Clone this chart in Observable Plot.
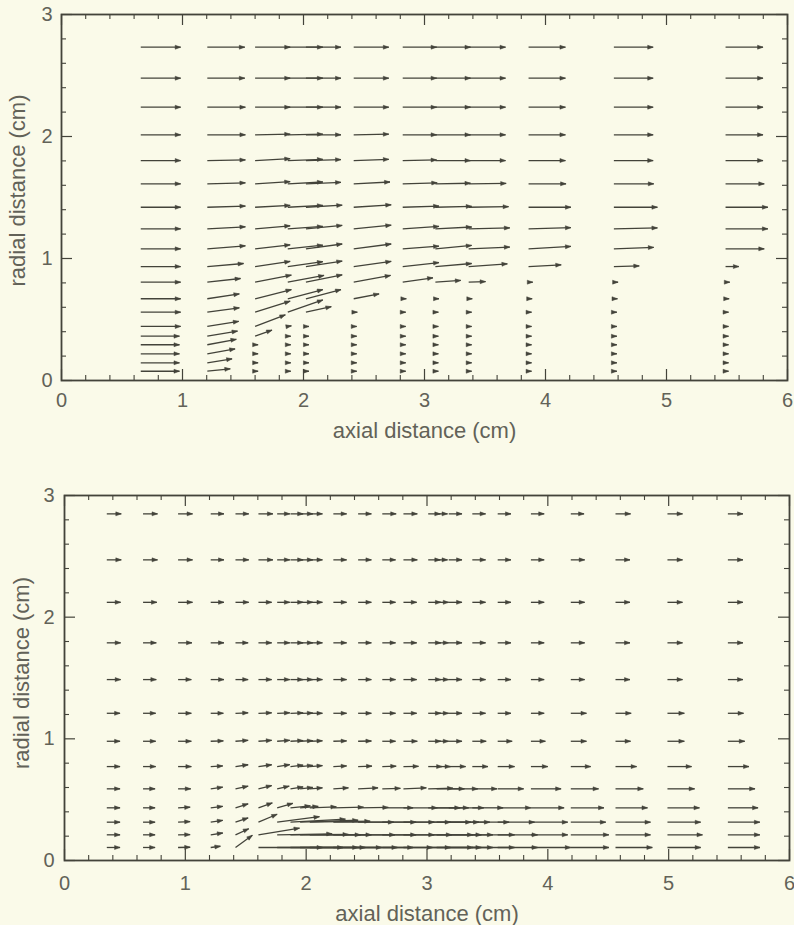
<!DOCTYPE html>
<html><head><meta charset="utf-8">
<script src="https://cdn.jsdelivr.net/npm/d3@7"></script>
<script src="https://cdn.jsdelivr.net/npm/@observablehq/plot@0.6"></script>
<style>
html,body{margin:0;padding:0;background:#fafae9;}
#chart{width:794px;}
#chart svg{display:block;}
</style></head><body><div id="chart"></div>
<script>
// ---------- axis tick values ----------
const xMajor = [0, 1, 2, 3, 4, 5, 6];
const yMajor = [0, 1, 2, 3];
const xLabel = "axial distance (cm)";
const yLabel = "radial distance (cm)";

// ---------- top panel: grid (cm) and arrow displacements (mm) ----------
const topX = [0.655, 1.205, 1.60, 1.87, 2.02, 2.415, 2.82, 3.09, 3.365, 3.86, 4.565, 5.488];
const topR = [0.076, 0.145, 0.219, 0.293, 0.363, 0.443, 0.56, 0.67, 0.806, 0.934, 1.079, 1.243, 1.42, 1.612, 1.803, 2.014, 2.24, 2.478, 2.732];
const topU = [
  [3.2,3.2,3.2,3.2,3.2,3.3,3.3,3.3,3.3,3.3,3.3,3.3,3.3,3.3,3.3,3.3,3.3,3.3,3.3],
  [1.9,2.05,2.3,2.4,2.5,2.6,2.65,2.65,2.75,3.0,3.15,3.15,3.15,3.15,3.15,3.15,3.15,3.1,3.1],
  [0.25,0.25,0.25,0.25,1.4,2.5,2.9,3.0,3.0,2.9,2.9,2.9,2.9,2.9,2.9,2.9,2.9,2.9,2.9],
  [0.25,0.25,0.25,0.25,0.25,0.3,2.9,2.9,3.0,2.9,2.9,2.9,2.9,2.9,2.9,2.9,2.9,2.9,2.9],
  [0.25,0.25,0.25,0.25,0.25,0.25,2.1,2.9,3.0,3.0,3.0,3.0,3.0,2.9,2.9,2.9,2.9,2.9,2.9],
  [0.25,0.25,0.25,0.25,0.25,0.25,0.3,2.1,3.05,3.1,3.1,3.1,3.1,3.0,2.9,2.9,2.9,2.9,2.9],
  [0.25,0.25,0.25,0.25,0.25,0.25,0.25,0.3,2.5,3.0,3.0,3.0,3.0,2.85,2.8,2.8,2.8,2.8,2.8],
  [0.25,0.25,0.25,0.25,0.25,0.25,0.25,0.3,2.1,3.0,3.0,3.0,3.0,2.9,2.9,2.9,2.9,2.9,2.9],
  [0.25,0.25,0.25,0.25,0.25,0.25,0.25,0.3,1.4,3.2,3.4,3.4,3.3,3.1,3.05,3.05,3.05,3.05,3.05],
  [0.25,0.25,0.25,0.25,0.25,0.25,0.25,0.3,0.35,2.7,3.5,3.5,3.5,3.1,3.05,3.05,3.05,3.05,3.05],
  [0.25,0.25,0.25,0.25,0.25,0.25,0.25,0.3,0.35,2.1,3.3,3.6,3.6,3.3,3.25,3.25,3.25,3.25,3.25],
  [0.25,0.25,0.25,0.25,0.25,0.25,0.25,0.3,0.35,1.1,3.2,3.5,3.5,3.2,3.1,3.1,3.1,3.1,3.1]
];
const topV = [
  [0,0,0,0,0,0,0,0,0,0,0,0,0,0,0,0,0,0,0],
  [0.2,0.33,0.4,0.45,0.42,0.42,0.36,0.4,0.3,0.25,0.25,0.17,0.1,0.08,0.05,0,0,0,0],
  [0,0,0,0,0.5,0.95,0.9,0.75,0.58,0.42,0.33,0.25,0.15,0.18,0.15,0.05,0,0,0],
  [0,0,0,0,0,0.05,1.0,0.75,0.55,0.4,0.3,0.2,0.15,0.15,0.1,0.05,0,0,0],
  [0,0,0,0,0,0,0.45,0.75,0.6,0.45,0.4,0.28,0.17,0.12,0.08,0,0,0,0],
  [0,0,0,0,0,0,0,0.4,0.55,0.42,0.4,0.3,0.2,0.15,0.1,0.05,0,0,0],
  [0,0,0,0,0,0,0,0,0.36,0.33,0.22,0.2,0.1,0.08,0.05,0,0,0,0],
  [0,0,0,0,0,0,0,0,0.14,0.25,0.28,0.15,0.08,0.05,0,0,0,0,0],
  [0,0,0,0,0,0,0,0,0.05,0.22,0.15,0.08,0.05,0.03,0,0,0,0,0],
  [0,0,0,0,0,0,0,0,0,0.14,0.2,0.1,0,0,0,0,0,0,0],
  [0,0,0,0,0,0,0,0,0,0.05,0.12,0.08,0,0,0,0,0,0,0],
  [0,0,0,0,0,0,0,0,0,0,0,0,0,0,0,0,0,0,0]
];

// ---------- bottom panel ----------
const botX = [0.35, 0.65, 0.94, 1.21, 1.415, 1.605, 1.76, 1.87, 1.95, 2.03, 2.225, 2.43, 2.63, 2.805, 3.01, 3.08, 3.18, 3.375, 3.585, 3.86, 4.19, 4.56, 4.99, 5.49];
const botR = [0.107, 0.211, 0.315, 0.433, 0.589, 0.772, 0.98, 1.21, 1.487, 1.789, 2.122, 2.471, 2.849];
const botU = [
  [1.1,1.1,1.1,1.1,1.1,1.1,1.1,1.1,1.15,1.15,1.15,1.2,1.2],
  [1.0,1.0,1.0,1.0,1.0,1.05,1.05,1.05,1.1,1.1,1.15,1.2,1.2],
  [1.0,1.0,1.0,1.0,1.05,1.1,1.1,1.1,1.1,1.15,1.2,1.2,1.2],
  [0.8,1.0,1.0,1.0,1.0,1.0,1.05,1.05,1.1,1.1,1.1,1.1,1.1],
  [1.4,1.1,1.05,1.05,1.05,1.05,1.05,1.05,1.05,1.05,1.1,1.1,1.1],
  [5.3,3.4,1.55,1.15,1.1,1.1,1.1,1.1,1.1,1.1,1.1,1.2,1.2],
  [5.45,4.55,3.5,1.3,1.0,1.05,1.05,1.05,1.05,1.05,1.05,1.05,1.05],
  [5.6,4.8,4.55,1.65,1.05,1.05,1.05,1.05,1.05,1.05,1.05,1.05,1.05],
  [5.4,5.0,4.8,1.5,1.05,1.05,1.05,1.05,1.05,1.05,1.05,1.05,1.05],
  [5.95,5.1,5.0,2.2,1.05,1.05,1.05,1.05,1.05,1.05,1.05,1.05,1.05],
  [5.3,5.1,5.0,2.5,1.25,1.1,1.1,1.1,1.1,1.1,1.1,1.1,1.1],
  [4.55,4.8,4.8,2.5,1.65,1.15,1.1,1.1,1.1,1.1,1.1,1.1,1.1],
  [4.15,4.3,4.3,2.55,1.5,1.15,1.1,1.1,1.1,1.1,1.1,1.1,1.15],
  [3.9,4.0,3.9,2.8,1.9,1.25,1.15,1.1,1.1,1.1,1.1,1.15,1.15],
  [3.7,3.7,3.55,2.65,2.05,1.15,1.05,1.05,1.05,1.05,1.05,1.0,1.0],
  [3.7,3.7,3.5,2.65,2.3,1.15,1.0,1.0,1.0,1.0,1.0,0.9,0.9],
  [3.65,3.65,3.4,2.9,2.4,1.4,1.1,1.1,1.1,1.1,1.1,1.1,1.1],
  [3.5,3.5,3.05,2.55,2.05,1.3,1.15,1.1,1.1,1.1,1.1,1.1,1.1],
  [3.3,3.3,3.05,2.75,2.15,1.4,1.2,1.1,1.1,1.1,1.1,1.1,1.1],
  [3.3,3.05,3.05,2.75,2.5,1.4,1.2,1.1,1.1,1.1,1.1,1.1,1.1],
  [3.15,3.15,2.9,2.75,2.3,1.65,1.3,1.3,1.15,1.15,1.15,1.15,1.1],
  [3.05,2.9,2.9,2.65,2.3,1.75,1.25,1.3,1.2,1.2,1.2,1.2,1.25],
  [2.75,2.9,2.75,2.65,2.25,2.0,1.4,1.4,1.25,1.25,1.25,1.25,1.25],
  [2.65,2.65,2.65,2.5,2.25,1.75,1.4,1.3,1.25,1.25,1.25,1.25,1.25]
];
const botV = [
  [0,0,0,0,0,0,0,0,0,0,0,0,0],
  [0,0,0,0,0,0,0,0,0,0,0,0,0],
  [0.02,0.02,0.05,0.05,0,0,0,0,0,0,0,0,0],
  [0.1,0.15,0.15,0.12,0.14,0.05,0.03,0,0,0,0,0,0],
  [1.0,0.5,0.35,0.33,0.22,0.15,0.08,0.04,0,0,0,0,0],
  [0,0.55,0.65,0.4,0.27,0.15,0.08,0.04,0,0,0,0,0],
  [0,0.08,0.45,0.37,0.22,0.16,0.08,0.04,0,0,0,0,0],
  [0,0.03,0.25,0.16,0.16,0.12,0.06,0.03,0,0,0,0,0],
  [0,0,0.16,0.12,0.12,0.1,0.05,0.02,0,0,0,0,0],
  [0,0,0.08,0.08,0.08,0.08,0.04,0,0,0,0,0,0],
  [0,0,0,0.05,0.08,0.05,0.03,0,0,0,0,0,0],
  [0,0,0,0.03,0.08,0.04,0.02,0,0,0,0,0,0],
  [0,0,0,0,0.04,0.03,0,0,0,0,0,0,0],
  [0,0,0,0,0.08,0.02,0,0,0,0,0,0,0],
  [0,0,0,0,0.05,0,0,0,0,0,0,0,0],
  [0,0,0,0,0,0,0,0,0,0,0,0,0],
  [0,0,0,0,0,0,0,0,0,0,0,0,0],
  [0,0,0,0,0,0,0,0,0,0,0,0,0],
  [0,0,0,0,0,0,0,0,0,0,0,0,0],
  [0,0,0,0,0,0,0,0,0,0,0,0,0],
  [0,0,0,0,0,0,0,0,0,0,0,0,0],
  [0,0,0,0,0,0,0,0,0,0,0,0,0],
  [0,0,0,0,0,0,0,0,0,0,0,0,0],
  [0,0,0,0,0,0,0,0,0,0,0,0,0]
];

// ---------- styling ----------
const ink = "#43433a";
const textInk = "#626258";
const font = "'Liberation Sans', Arial, Helvetica, sans-serif";
const headSymbol = {draw(ctx) { const L = 5.5, w = 2.0; ctx.moveTo(0, 0); ctx.lineTo(w, L); ctx.lineTo(-w, L); ctx.closePath(); }};

const xMinor = d3.ticks(0, 6, 30).filter(d => !Number.isInteger(d));
const yMinor = d3.ticks(0, 3, 15).filter(d => !Number.isInteger(d));

function panel({X, R, U, V, height, mt, mb, ml, mr, tickDy, titleDy, ylabDx, ytitleDx, ytitleDy}) {
  const data = [];
  X.forEach((x, j) => R.forEach((r, i) => {
    const u = U[j][i], v = V[j][i];
    data.push({x, r, x2: x + u / 10, r2: r + v / 10, ang: 90 - Math.atan2(v, u) * 180 / Math.PI});
  }));
  const pxX = (794 - ml - mr) / 6, pxY = (height - mt - mb) / 3;
  const tMaj = 11, tMin = 5;
  return Plot.plot({
    width: 794, height,
    marginTop: mt, marginBottom: mb, marginLeft: ml, marginRight: mr,
    x: {domain: [0, 6], axis: null},
    y: {domain: [0, 3], axis: null},
    style: {background: "transparent", fontFamily: font, color: ink, overflow: "visible"},
    marks: [
      // inward ticks, four sides
      Plot.ruleX(xMajor, {x: d => d, y1: 0, y2: tMaj / pxY, stroke: ink, strokeWidth: 1.2}),
      Plot.ruleX(xMinor, {x: d => d, y1: 0, y2: tMin / pxY, stroke: ink, strokeWidth: 1.1}),
      Plot.ruleX(xMajor, {x: d => d, y1: 3, y2: 3 - tMaj / pxY, stroke: ink, strokeWidth: 1.2}),
      Plot.ruleX(xMinor, {x: d => d, y1: 3, y2: 3 - tMin / pxY, stroke: ink, strokeWidth: 1.1}),
      Plot.ruleY(yMajor, {y: d => d, x1: 0, x2: tMaj / pxX, stroke: ink, strokeWidth: 1.2}),
      Plot.ruleY(yMinor, {y: d => d, x1: 0, x2: tMin / pxX, stroke: ink, strokeWidth: 1.1}),
      Plot.ruleY(yMajor, {y: d => d, x1: 6, x2: 6 - tMaj / pxX, stroke: ink, strokeWidth: 1.2}),
      Plot.ruleY(yMinor, {y: d => d, x1: 6, x2: 6 - tMin / pxX, stroke: ink, strokeWidth: 1.1}),
      Plot.frame({stroke: ink, strokeWidth: 1.8}),
      // arrows
      Plot.link(data, {x1: "x", y1: "r", x2: "x2", y2: "r2", stroke: ink, strokeWidth: 1.3}),
      Plot.dot(data, {x: "x2", y: "r2", symbol: headSymbol, rotate: "ang", r: 2, fill: ink, stroke: ink, strokeWidth: 0.5}),
      // tick labels
      Plot.text(xMajor, {x: d => d, text: d => String(d), frameAnchor: "bottom", lineAnchor: "middle", dy: tickDy, fontSize: 20, fill: textInk}),
      Plot.text(yMajor, {y: d => d, text: d => String(d), frameAnchor: "left", dx: ylabDx, textAnchor: "end", lineAnchor: "middle", fontSize: 20, fill: textInk}),
      // axis titles
      Plot.text([xLabel], {text: d => d, frameAnchor: "bottom", lineAnchor: "middle", textAnchor: "middle", dy: titleDy, fontSize: 22, fill: textInk}),
      Plot.text([yLabel], {text: d => d, frameAnchor: "left", textAnchor: "middle", lineAnchor: "middle", dx: ytitleDx, dy: ytitleDy, rotate: -90, fontSize: 22, fill: textInk})
    ]
  });
}

const chart = document.getElementById("chart");
chart.appendChild(panel({X: topX, R: topR, U: topU, V: topV, height: 470, mt: 14, mb: 90, ml: 61, mr: 7, tickDy: 20, titleDy: 50, ylabDx: -9, ytitleDx: -44, ytitleDy: -7}));
chart.appendChild(panel({X: botX, R: botR, U: botU, V: botV, height: 455, mt: 25, mb: 65, ml: 64, mr: 5, tickDy: 23, titleDy: 53, ylabDx: -10, ytitleDx: -43, ytitleDy: -5}));
</script></body></html>
